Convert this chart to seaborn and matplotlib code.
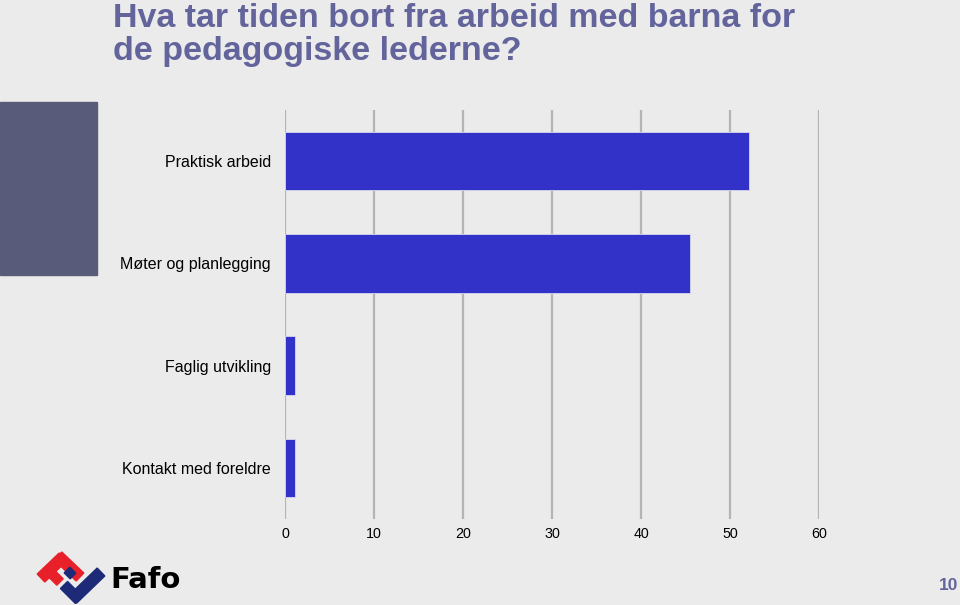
import matplotlib
matplotlib.use("Agg")
import matplotlib.pyplot as plt
import seaborn as sns
import pandas as pd
import numpy as np
from matplotlib.patches import Polygon, Rectangle

categories = ["Praktisk arbeid", "Møter og planlegging", "Faglig utvikling", "Kontakt med foreldre"]
values = [52.1, 45.5, 1.1, 1.1]
xticks = [0, 10, 20, 30, 40, 50, 60]

df = pd.DataFrame({"kategori": categories, "verdi": values})

sns.set_theme(style="white")
plt.rcParams['font.family'] = ['Liberation Sans', 'DejaVu Sans']

BG = "#ebebeb"
fig = plt.figure(figsize=(9.6, 6.05), dpi=100, facecolor=BG)
ax = fig.add_axes([285/960, 86/605, 534/960, 409/605])
ax.set_facecolor(BG)

sns.barplot(data=df, x="verdi", y="kategori", orient="h", color="#3232c8",
            saturation=1, width=0.57, ax=ax, edgecolor="#d8d8f0", linewidth=0.6)

ax.set_xlim(0, 60)
ax.set_ylim(3.5, -0.5)
ax.set_xticks(xticks)
ax.set_xticklabels([str(t) for t in xticks])
ax.set_xlabel("")
ax.set_ylabel("")
ax.grid(axis="x", color="#b4b4b4", linewidth=1.6)
ax.set_axisbelow(True)
for s in ax.spines.values():
    s.set_visible(False)
ax.tick_params(axis="x", length=0, labelsize=10.3, colors="black", pad=5.5)
ax.tick_params(axis="y", length=0, labelsize=11.5, colors="black", pad=10)

# left decorative block
fig.patches.append(Rectangle((0, 1 - 275/605), 97/960, (275-102)/605,
                             transform=fig.transFigure, color="#585c7a", zorder=0))

# title
title_color = "#63649b"
fig.text(113/960, 1 - 27/605, "Hva tar tiden bort fra arbeid med barna for",
         fontsize=24.5, fontweight="bold", color=title_color, va="baseline", ha="left")
fig.text(113/960, 1 - 60/605, "de pedagogiske lederne?",
         fontsize=24.5, fontweight="bold", color=title_color, va="baseline", ha="left")

# page number
fig.text(958/960, 1 - 585/605, "10", fontsize=12.5, fontweight="bold",
         color=title_color, ha="right", va="center")

# logo
def band(a, b, w):
    a = np.array(a, float); b = np.array(b, float)
    d = b - a
    n = np.array([-d[1], d[0]]) / np.hypot(*d) * w / 2
    pts = [a + n, b + n, b - n, a - n]
    return [(x/960, 1 - y/605) for x, y in pts]

red_c = "#e8202a"
blue_c = "#1c2a78"
for a, b, w, c in [
    ((41, 578), (63, 557), 11, red_c),
    ((58, 556), (80, 577), 11, red_c),
    ((52, 574), (60, 582), 9, red_c),
    ((64, 585), (79, 600), 10, blue_c),
    ((73, 599), (101, 572), 11, blue_c),
    ((67, 570), (73, 576), 8, blue_c),
]:
    fig.patches.append(Polygon(band(a, b, w), closed=True, transform=fig.transFigure, color=c))
fig.text(110/960, 1 - 588/605, "Fafo", fontsize=21, fontweight="bold", color="black",
         ha="left", va="baseline", family=["DejaVu Sans"])

fig.savefig("out.png", dpi=100, facecolor=BG)
